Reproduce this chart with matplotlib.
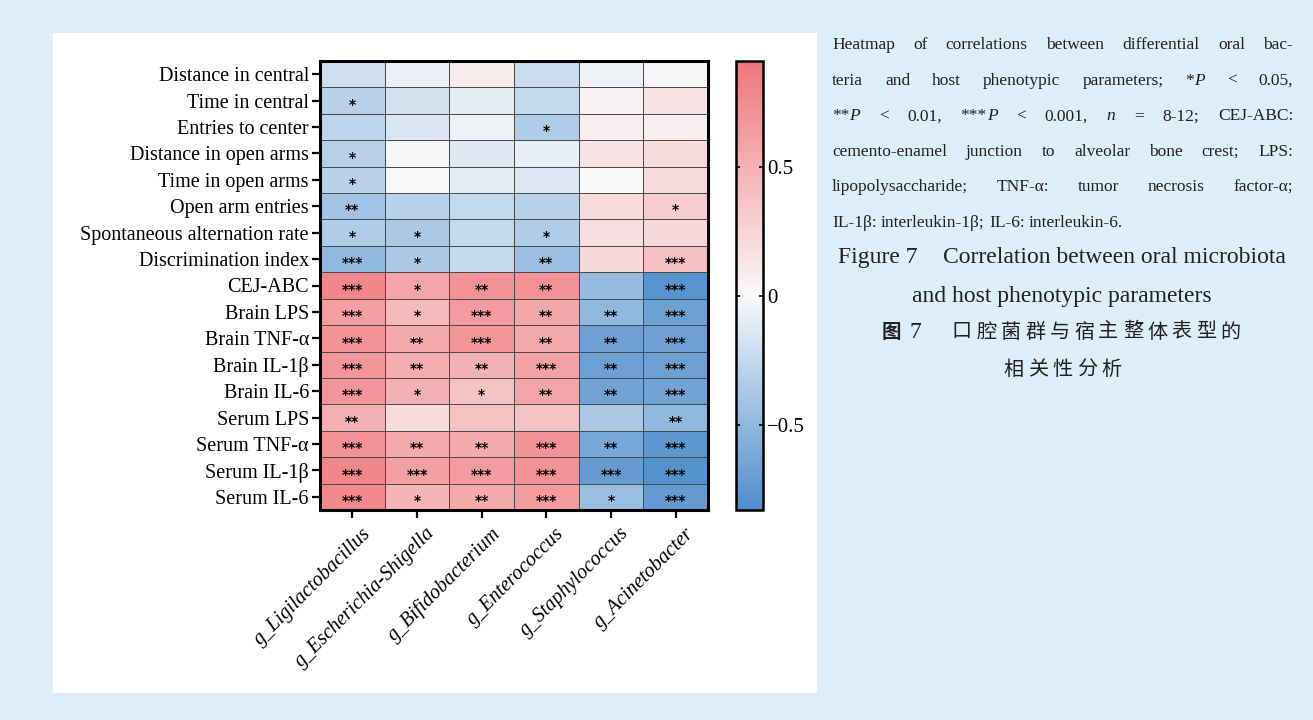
import re
import numpy as np
import matplotlib
matplotlib.use("Agg")
import matplotlib.pyplot as plt
from matplotlib.colors import LinearSegmentedColormap, Normalize
from matplotlib.patches import Rectangle
from matplotlib.transforms import ScaledTranslation

# ---- data ----
bacteria = ["g_Ligilactobacillus", "g_Escherichia-Shigella", "g_Bifidobacterium",
            "g_Enterococcus", "g_Staphylococcus", "g_Acinetobacter"]

phenotypes = ["Distance in central", "Time in central", "Entries to center",
              "Distance in open arms", "Time in open arms", "Open arm entries",
              "Spontaneous alternation rate", "Discrimination index", "CEJ-ABC",
              "Brain LPS", "Brain TNF-\u03b1", "Brain IL-1\u03b2", "Brain IL-6",
              "Serum LPS", "Serum TNF-\u03b1", "Serum IL-1\u03b2", "Serum IL-6"]

corr = [
    [-0.20, -0.06, 0.10, -0.22, -0.05, -0.02],
    [-0.30, -0.18, -0.10, -0.25, 0.05, 0.15],
    [-0.28, -0.15, -0.05, -0.35, 0.07, 0.07],
    [-0.32, -0.02, -0.12, -0.08, 0.15, 0.20],
    [-0.30, -0.01, -0.10, -0.14, 0.00, 0.20],
    [-0.42, -0.30, -0.25, -0.30, 0.20, 0.30],
    [-0.35, -0.38, -0.25, -0.35, 0.18, 0.22],
    [-0.50, -0.38, -0.25, -0.45, 0.22, 0.40],
    [0.80, 0.58, 0.70, 0.72, -0.48, -0.78],
    [0.62, 0.45, 0.65, 0.57, -0.50, -0.68],
    [0.70, 0.55, 0.68, 0.55, -0.68, -0.68],
    [0.68, 0.52, 0.50, 0.60, -0.68, -0.68],
    [0.68, 0.50, 0.38, 0.58, -0.66, -0.66],
    [0.50, 0.20, 0.38, 0.38, -0.38, -0.50],
    [0.72, 0.55, 0.55, 0.70, -0.62, -0.75],
    [0.80, 0.62, 0.65, 0.72, -0.72, -0.80],
    [0.78, 0.48, 0.55, 0.65, -0.45, -0.72],
]

stars = [
    ["", "", "", "", "", ""],
    ["*", "", "", "", "", ""],
    ["", "", "", "*", "", ""],
    ["*", "", "", "", "", ""],
    ["*", "", "", "", "", ""],
    ["**", "", "", "", "", "*"],
    ["*", "*", "", "*", "", ""],
    ["***", "*", "", "**", "", "***"],
    ["***", "*", "**", "**", "", "***"],
    ["***", "*", "***", "**", "**", "***"],
    ["***", "**", "***", "**", "**", "***"],
    ["***", "**", "**", "***", "**", "***"],
    ["***", "*", "*", "**", "**", "***"],
    ["**", "", "", "", "", "**"],
    ["***", "**", "**", "***", "**", "***"],
    ["***", "***", "***", "***", "***", "***"],
    ["***", "*", "**", "***", "*", "***"],
]

cbar_ticks = [-0.5, 0, 0.5]
cbar_labels = ["\u22120.5", "0", "0.5"]
vmin, vmax = -0.83, 0.91

# caption; {..} marks italic
note_lines = [
    "Heatmap of correlations between differential oral bac-",
    "teria and host phenotypic parameters; *{P} < 0.05,",
    "**{P} < 0.01, ***{P} < 0.001, {n} = 8-12; CEJ-ABC:",
    "cemento-enamel junction to alveolar bone crest; LPS:",
    "lipopolysaccharide; TNF-\u03b1: tumor necrosis factor-\u03b1;",
    "IL-1\u03b2: interleukin-1\u03b2; IL-6: interleukin-6.",
]
title_fig = "Figure 7"
title_en = ["Correlation between oral microbiota", "and host phenotypic parameters"]
title_zh_fig = "\u56fe 7"
title_zh = ["\u53e3\u8154\u83cc\u7fa4\u4e0e\u5bbf\u4e3b\u6574\u4f53\u8868\u578b\u7684",
            "\u76f8\u5173\u6027\u5206\u6790"]

W, H = 1313, 720
SERIF = "Liberation Serif"
CJK = ["Noto Sans CJK SC", "DejaVu Sans"]
INK = "#231f20"

fig = plt.figure(figsize=(W / 100, H / 100), dpi=100)
fig.patch.set_facecolor("#ddeef9")
fig.patches.append(Rectangle((53 / W, 1 - 693 / H), 764 / W, 660 / H,
                             transform=fig.transFigure, facecolor="white",
                             edgecolor="none", zorder=-10))

cmap = LinearSegmentedColormap.from_list(
    "bwr_custom", [(0.0, "#4e8ecc"), (-vmin / (vmax - vmin), "#f9f9fa"), (1.0, "#f0767c")])
norm = Normalize(vmin, vmax)

ax = fig.add_axes([320 / W, 1 - 510 / H, 388 / W, 449 / H])
data = np.array(corr)
mesh = ax.pcolormesh(np.arange(len(bacteria) + 1), np.arange(len(phenotypes) + 1), data,
                     cmap=cmap, norm=norm, edgecolors="#4a4a4a", linewidth=0.6)
ax.set_xlim(0, len(bacteria))
ax.set_ylim(len(phenotypes), 0)

for i in range(len(phenotypes)):
    for j in range(len(bacteria)):
        if stars[i][j]:
            ax.text(j + 0.5, i + 0.66, stars[i][j], ha="center", va="center",
                    fontsize=10, fontweight="bold", family="DejaVu Sans", color="black")

ax.set_xticks(np.arange(len(bacteria)) + 0.5)
ax.set_yticks(np.arange(len(phenotypes)) + 0.5)
ax.set_xticklabels(bacteria, rotation=45, ha="right", rotation_mode="anchor",
                   family=SERIF, style="italic", fontsize=14.5)
ax.set_yticklabels(phenotypes, family=SERIF, fontsize=14.5)
ax.tick_params(length=6, width=1.6, color="black", pad=2)
ax.tick_params(axis="x", pad=4)
shift = ScaledTranslation(0.09, 0, fig.dpi_scale_trans)
for lab in ax.get_xticklabels():
    lab.set_transform(lab.get_transform() + shift)
for s in ax.spines.values():
    s.set_linewidth(2.2)

cax = fig.add_axes([736 / W, 1 - 510 / H, 27 / W, 449 / H])
cb = fig.colorbar(mesh, cax=cax, ticks=cbar_ticks)
cb.outline.set_linewidth(1.8)
cb.ax.set_yticklabels(cbar_labels, family=SERIF, fontsize=15)
cb.ax.tick_params(direction="in", left=True, right=True, length=3, width=1.2, pad=3)

# ---- caption text ----
renderer = fig.canvas.get_renderer()


def segs(word):
    out = []
    for part in re.split(r"(\{[^}]*\})", word):
        if not part:
            continue
        if part.startswith("{"):
            out.append((part[1:-1], "italic"))
        else:
            out.append((part, "normal"))
    return out


def text_width(s, size):
    t = fig.text(0, 0, s, family=SERIF, fontsize=size)
    w = t.get_window_extent(renderer).width
    t.remove()
    return w


def put_line(line, y, x0, x1, justify, size):
    words = line.split(" ")
    objs = []
    widths = []
    for w in words:
        row = []
        tot = 0
        for txt, st in segs(w):
            t = fig.text(0, 1 - y / H, txt, family=SERIF, style=st, fontsize=size,
                         color=INK, va="baseline")
            wd = t.get_window_extent(renderer).width
            row.append((t, wd))
            tot += wd
        objs.append(row)
        widths.append(tot)
    sw = text_width("a a", size) - text_width("aa", size)
    gap = (x1 - x0 - sum(widths)) / (len(words) - 1) if justify else sw
    x = x0
    for row, tot in zip(objs, widths):
        for t, wd in row:
            t.set_x(x / W)
            x += wd
        x += gap


def put_chars(s, x0, y, pitch, size, weight="normal"):
    for k, ch in enumerate(s):
        fig.text((x0 + k * pitch) / W, 1 - y / H, ch, family=CJK, fontsize=size,
                 fontweight=weight, color=INK, ha="center", va="center")


for k, line in enumerate(note_lines):
    put_line(line, 49 + k * 35.6, 832, 1293, k < len(note_lines) - 1, 12.5)

fig.text(838 / W, 1 - 263 / H, title_fig, family=SERIF, fontsize=17,
         color=INK, ha="left", va="baseline")
fig.text(943 / W, 1 - 263 / H, title_en[0], family=SERIF, fontsize=17,
         color=INK, ha="left", va="baseline")
fig.text(1062 / W, 1 - 302 / H, title_en[1], family=SERIF, fontsize=17,
         color=INK, ha="center", va="baseline")

fig.text(882 / W, 1 - 332 / H, title_zh_fig[0], family=CJK, fontsize=14,
         fontweight="bold", color=INK, ha="left", va="center")
fig.text(910 / W, 1 - 332 / H, title_zh_fig[-1], family=SERIF, fontsize=17,
         color=INK, ha="left", va="center")
put_chars(title_zh[0], 962, 332, 24.4, 14.5)
put_chars(title_zh[1], 1014, 370, 24.4, 14.5)

fig.savefig("out.png", dpi=100, facecolor=fig.get_facecolor())
